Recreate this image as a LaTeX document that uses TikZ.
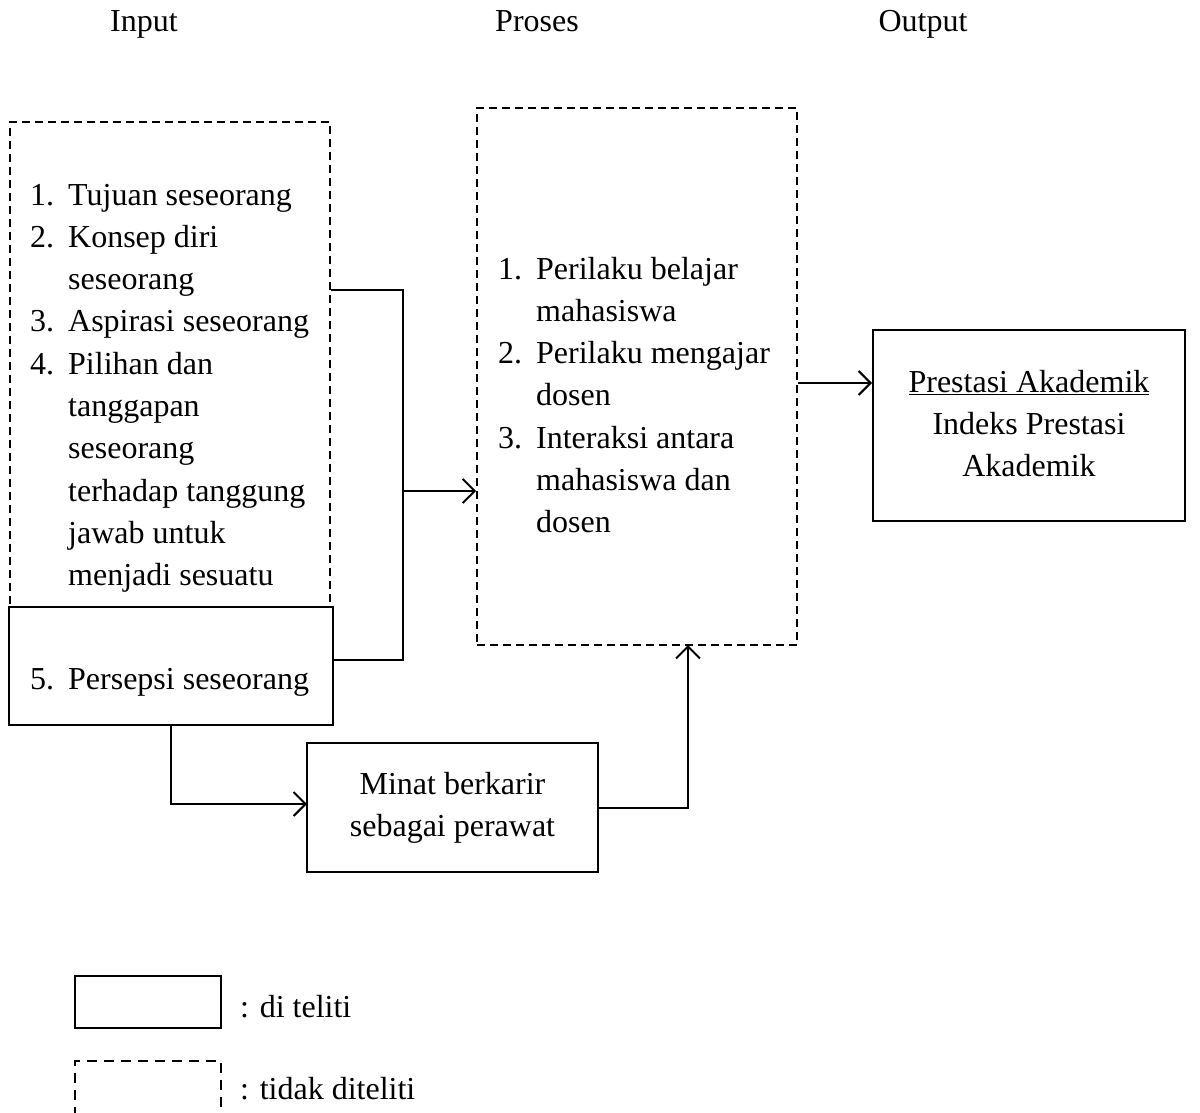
\documentclass[tikz,border=0pt]{standalone}
\usepackage{fontspec}
\setmainfont{Liberation Serif}
\usetikzlibrary{arrows.meta}
\begin{document}
\begin{tikzpicture}[x=1pt,y=-1pt,
  every node/.style={font=\fontsize{32}{42.3}\selectfont, inner sep=0pt},
  dbox/.style={draw, line width=1.8pt, dash pattern=on 8pt off 5pt},
  conn/.style={line width=2pt},
  arr/.style={line width=2pt, -{Straight Barb[length=12pt,width=24pt]}},
  txt/.style={anchor=base west, align=left},
  ctxt/.style={anchor=base, align=center}]
\useasboundingbox (0,0) rectangle (1200,1112);
% headers
\node[anchor=base] (hin) at (144,31) {Input};
\node[anchor=base] (hpr) at (537,31) {Proses};
\node[anchor=base] (hout) at (923,31) {Output};
% input dashed box
\node[dbox, minimum width=320pt, minimum height=485pt] (inbox) at (170,364.5) {};
\node[txt] (intext) at (30,205) {\begin{tabular}[t]{@{}p{38pt}@{}l@{}}
1. & Tujuan seseorang\\
2. & Konsep diri\\
 & seseorang\\
3. & Aspirasi seseorang\\
4. & Pilihan dan\\
 & tanggapan\\
 & seseorang\\
 & terhadap tanggung\\
 & jawab untuk\\
 & menjadi sesuatu
\end{tabular}};
% persepsi box
\node[draw, line width=2pt, minimum width=324pt, minimum height=118pt, fill=white] (perbox) at (171,666) {};
\node[txt] (pertext) at (30,689) {\begin{tabular}[t]{@{}p{38pt}@{}l@{}}5. & Persepsi seseorang\end{tabular}};
% proses box
\node[dbox, minimum width=320pt, minimum height=537pt] (proses) at (637,376.5) {};
\node[txt] (prtext) at (498,279) {\begin{tabular}[t]{@{}p{38pt}@{}l@{}}
1. & Perilaku belajar\\
 & mahasiswa\\
2. & Perilaku mengajar\\
 & dosen\\
3. & Interaksi antara\\
 & mahasiswa dan\\
 & dosen
\end{tabular}};
% output box
\node[draw, line width=2pt, minimum width=312pt, minimum height=191pt] (outbox) at (1029,425.5) {};
\node[ctxt] (outtext) at (1029,392) {\begin{tabular}[t]{@{}c@{}}
\underline{Prestasi Akademik}\\
Indeks Prestasi\\
Akademik
\end{tabular}};
% minat box
\node[draw, line width=2pt, minimum width=291pt, minimum height=129pt] (minat) at (452.5,807.5) {};
\node[ctxt] (mintext) at (452.5,794) {\begin{tabular}[t]{@{}c@{}}
Minat berkarir\\
sebagai perawat
\end{tabular}};
% connectors
\coordinate (jtop) at (403,290);
\coordinate (jbot) at (403,660);
\coordinate (jmid) at (403,491);
\coordinate (jout) at (797,383);
\coordinate (jup) at (688,645);
\coordinate (jmin) at (307,804);
\draw[conn] (inbox.east |- jtop) -- (jtop) -- (jbot) -- (perbox.east |- jbot);
\draw[arr] (jmid) -- (proses.west |- jmid);
\draw[arr] (proses.east |- jout) -- (outbox.west |- jout);
\draw[arr] (perbox.south) |- (jmin);
\draw[arr] (minat.east) -| (jup);
% legend
\node[draw, line width=2pt, minimum width=146pt, minimum height=52pt] (leg1) at (148,1002) {};
\node[anchor=base west] (leg1t) at (240,1017) {: di teliti};
\node[dbox, line width=2pt, minimum width=146pt, minimum height=70pt, dash pattern=on 10pt off 7pt] (leg2) at (148,1096) {};
\node[anchor=base west] (leg2t) at (240,1099) {: tidak diteliti};
\end{tikzpicture}
\end{document}
